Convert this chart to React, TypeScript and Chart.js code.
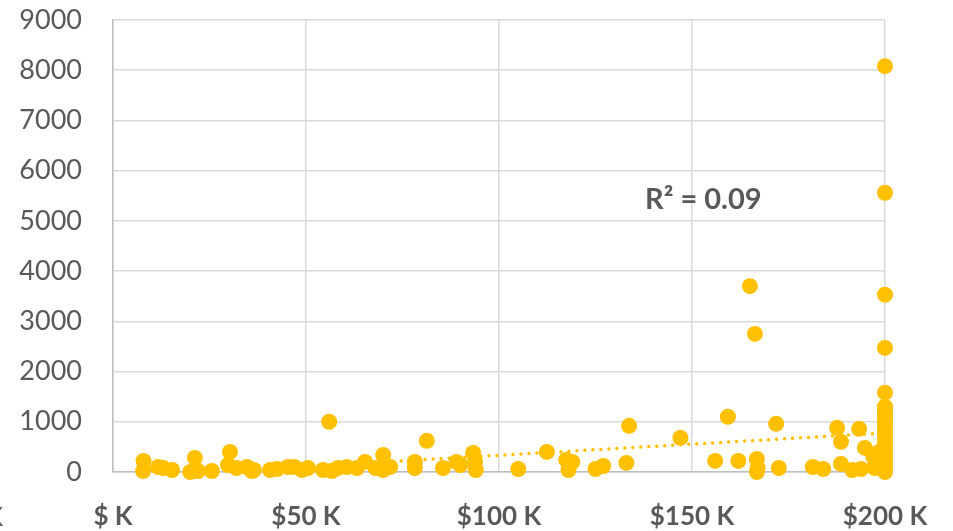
import React, { useEffect, useRef } from "react";
import { Chart, registerables } from "chart.js";

Chart.register(...registerables);

// Income in $K
const incomeK: number[] = [
  7.9, 7.8, 11.7, 13, 15.3, 21.2, 20, 22, 25.6, 30.3, 29.8, 32, 34.7, 36, 36.5,
  40.7, 42.5, 45.3, 47, 49, 50.5, 56, 54.4, 56.7, 58.3, 60.6, 63.2, 65.3, 68, 70, 70,
  71.8, 78.2, 78.2, 81.3, 85.5, 89, 90, 93.3, 93.8, 94, 105,
  112.4, 117.4, 119, 118, 125, 127, 133, 133.7, 147, 159.3, 171.8, 156, 162,
  166.8, 167, 166.8, 165, 166.3, 172.5, 181.3, 184, 188.6, 191.5, 193.8, 187.6,
  188.6, 193.3, 194.8, 197.4, 198.5, 198, 197, 197.5,
  200, 200, 200, 200, 200, 200, 200, 200, 200, 200, 200, 200, 200, 200, 200, 200,
  200, 200, 200, 200, 200, 200,
];

const values: number[] = [
  220, 20, 100, 80, 40, 280, 0, 20, 20, 400, 140, 80, 100, 20, 40,
  40, 60, 100, 100, 40, 80, 1000, 40, 20, 80, 100, 80, 200, 80, 340, 40,
  100, 200, 80, 620, 80, 200, 140, 380, 200, 40, 60,
  400, 240, 200, 40, 60, 120, 180, 920, 680, 1100, 960, 220, 220,
  260, 80, 0, 3700, 2750, 80, 100, 60, 160, 40, 60, 880,
  600, 860, 480, 80, 400, 100, 300, 200,
  8080, 5560, 3530, 2470, 1580, 1300, 1200, 1120, 1040, 960, 880, 800, 720, 640,
  560, 480, 400, 320, 240, 160, 80, 0,
];

// Trendline endpoints
const trendX: number[] = [25, 200];
const trendY: number[] = [0, 777];

const xTicks: number[] = [0, 50, 100, 150, 200];
const xTickLabels: string[] = ["$ K", "$50 K", "$100 K", "$150 K", "$200 K"];
const rSquaredLabel = "R² = 0.09";

const GOLD = "#FFC000";
const TEXT = "#595959";
const FONT = "Lato, 'Open Sans', sans-serif";

export default function App() {
  const ref = useRef<HTMLCanvasElement | null>(null);

  useEffect(() => {
    document.body.style.margin = "0";
    const canvas = ref.current;
    if (!canvas) return;

    const r2Plugin = {
      id: "r2label",
      afterDatasetsDraw(chart: any) {
        const { ctx, chartArea } = chart;
        ctx.save();
        ctx.fillStyle = TEXT;
        ctx.font = `bold 29px ${FONT}`;
        ctx.textBaseline = "middle";
        ctx.textAlign = "left";
        ctx.fillText(rSquaredLabel, chartArea.left + 532, chartArea.top + 180);
        ctx.restore();
      },
    };

    const chart = new Chart(canvas, {
      type: "scatter",
      data: {
        datasets: [
          {
            label: "Data",
            data: incomeK.map((x, i) => ({ x, y: values[i] })),
            backgroundColor: GOLD,
            borderColor: GOLD,
            pointRadius: 8,
            pointBorderWidth: 0,
            clip: false,
            order: 1,
          } as any,
          {
            label: "Trend",
            type: "line",
            data: trendX.map((x, i) => ({ x, y: trendY[i] })),
            borderColor: GOLD,
            borderWidth: 3.5,
            borderDash: [0, 8],
            borderCapStyle: "round",
            pointRadius: 0,
            fill: false,
            order: 2,
          } as any,
        ],
      },
      options: {
        animation: false,
        responsive: false,
        events: [],
        layout: { padding: { top: 20, right: 68, left: 0, bottom: 0 } },
        plugins: { legend: { display: false }, tooltip: { enabled: false } },
        scales: {
          x: {
            type: "linear",
            min: 0,
            max: 200,
            afterBuildTicks: (s: any) => {
              s.ticks = xTicks.map((v) => ({ value: v }));
            },
            afterFit: (s: any) => {
              s.height = 59;
              s.paddingLeft = 0;
              s.paddingRight = 0;
            },
            ticks: {
              color: TEXT,
              font: { family: FONT, size: 26, weight: "bold" },
              padding: 29,
              maxRotation: 0,
              callback: (v: any) => {
                const i = xTicks.indexOf(Number(v));
                return i >= 0 ? xTickLabels[i] : "";
              },
            },
            grid: { color: "#d9d9d9", lineWidth: 1.5, drawTicks: false },
            border: { color: "#bfbfbf", width: 1.5 },
          },
          y: {
            type: "linear",
            min: 0,
            max: 9000,
            afterFit: (s: any) => {
              s.width = 113;
              s.paddingTop = 0;
              s.paddingBottom = 0;
            },
            ticks: {
              stepSize: 1000,
              color: TEXT,
              font: { family: FONT, size: 27 },
              padding: 31,
              callback: (v: any) => String(v),
            },
            grid: { color: "#d9d9d9", lineWidth: 1.5, drawTicks: false },
            border: { color: "#bfbfbf", width: 1.5 },
          },
        },
      },
      plugins: [r2Plugin],
    });
    return () => chart.destroy();
  }, []);

  return (
    <div style={{ position: "relative", width: 953, height: 531, overflow: "hidden" }}>
      <canvas ref={ref} width={953} height={531} />
      <div
        style={{
          position: "absolute",
          left: -15,
          top: 500,
          fontFamily: FONT,
          fontWeight: "bold",
          fontSize: 26,
          color: TEXT,
        }}
      >
        K
      </div>
    </div>
  );
}
